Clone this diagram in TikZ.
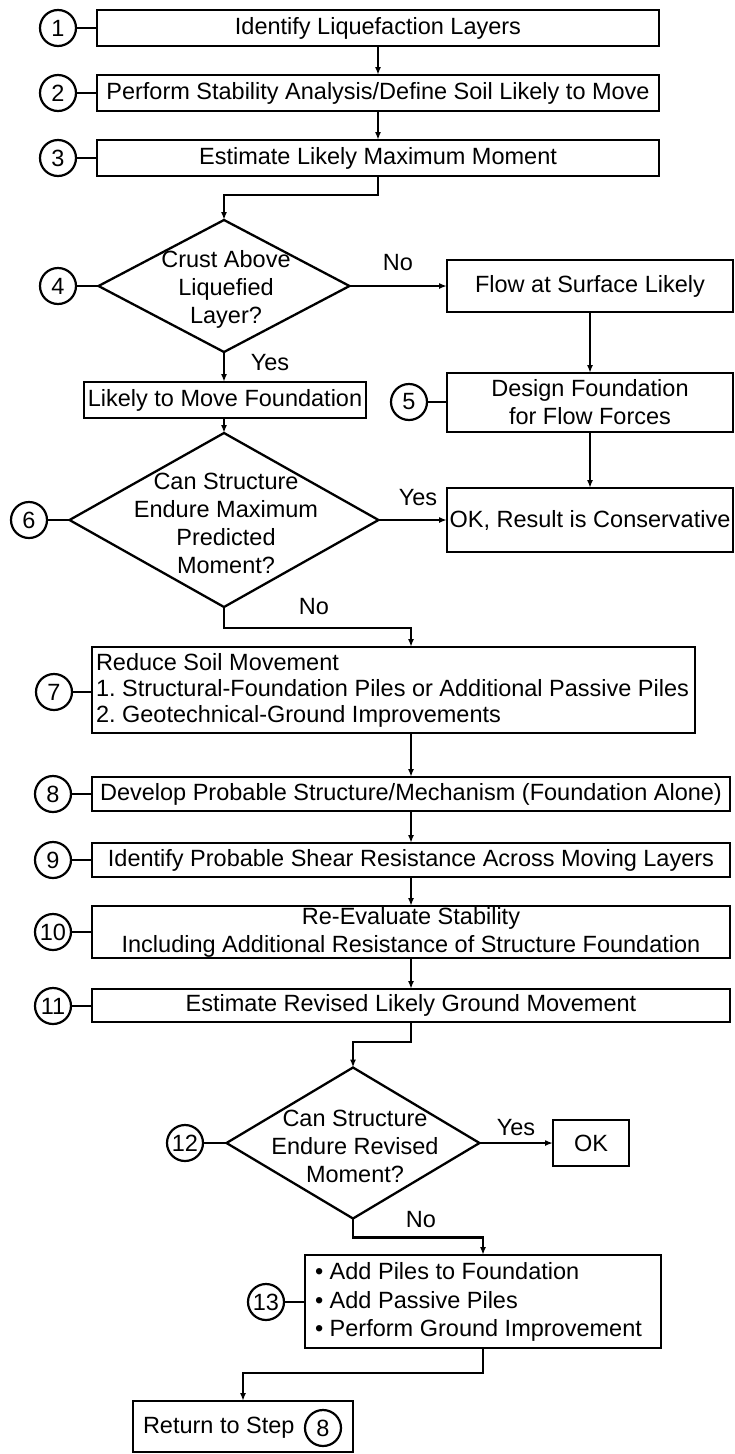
\documentclass[tikz,border=0pt]{standalone}
\usepackage{fontspec}
\setmainfont{Liberation Sans}
\usetikzlibrary{shapes.geometric,arrows.meta}
\frenchspacing
\begin{document}
\begin{tikzpicture}[x=1pt,y=-1pt,
  every node/.style={font=\fontsize{23.5}{28}\selectfont, inner sep=0pt, outer sep=0pt, align=center},
  box/.style={draw, line width=2.6pt, rectangle},
  num/.style={draw, circle, line width=2.2pt, minimum size=36pt},
  dia/.style={draw, diamond, line width=2.3pt},
  conn/.style={line width=2.4pt},
  arr/.style={line width=2.4pt, -{Latex[length=8pt,width=6pt]}}
]
\useasboundingbox (0,0) rectangle (734,1454);

% top column
\node[box, minimum width=562pt, minimum height=36pt] (b1) at (378,28) {Identify Liquefaction Layers};
\node[box, minimum width=562pt, minimum height=36pt] (b2) at (378,93) {Perform Stability Analysis/Define Soil Likely to Move};
\node[box, minimum width=562pt, minimum height=36pt] (b3) at (378,158) {Estimate Likely Maximum Moment};
\node[num] (c1) at (58,28) {1};
\node[num] (c2) at (58,93) {2};
\node[num] (c3) at (58,158) {3};
\draw[conn] (c1) -- (b1);
\draw[conn] (c2) -- (b2);
\draw[conn] (c3) -- (b3);
\draw[arr] (b1) -- (b2);
\draw[arr] (b2) -- (b3);

% decision 4
\node[dia, minimum width=251pt, minimum height=132pt] (d4) at (224,286) {};
\node (d4t) at (226,289) {Crust Above\\Liquefied\\Layer?};
\node[num] (c4) at (58,286) {4};
\draw[conn] (c4) -- (d4.west);
\draw[arr] (b3.south) -- ++(0,19) -| (d4.north);

\node[box, minimum width=286pt, minimum height=52pt] (fl) at (590,286) {Flow at Surface Likely};
\draw[arr] (d4.east) -- (fl.west);
\node (no1) at (398,263) {No};

\node[box, minimum width=282pt, minimum height=36pt] (lm) at (225,400) {Likely to Move Foundation};
\draw[arr] (d4.south) -- (d4.south |- lm.north);
\node (yes1) at (270,363) {Yes};

\node[box, minimum width=286pt, minimum height=59pt] (b5) at (590,402.5) {Design Foundation\\for Flow Forces};
\node[num] (c5) at (409,402) {5};
\draw[conn] (c5.east) -- (c5.east -| b5.west);
\draw[arr] (fl.south) -- (b5.north);

% decision 6
\node[dia, minimum width=309pt, minimum height=174pt] (d6) at (224,520) {};
\node (d6t) at (226,523) {Can Structure\\Endure Maximum\\Predicted\\Moment?};
\node[num] (c6) at (29,520) {6};
\draw[conn] (c6) -- (d6.west);
\draw[arr] (lm.south -| d6.north) -- (d6.north);

\node[box, minimum width=286pt, minimum height=64pt] (ok6) at (590,520) {OK, Result is Conservative};
\draw[arr] (b5.south) -- (ok6.north);
\draw[arr] (d6.east) -- (ok6.west);
\node (yes2) at (418,498) {Yes};

% step 7
\node[box, minimum width=603pt, minimum height=86pt] (b7) at (393.5,690) {};
\node[anchor=west, align=left, font=\fontsize{23.5}{26}\selectfont] (b7t) at (96,690)
  {Reduce Soil Movement\\1. Structural-Foundation Piles or Additional Passive Piles\\2. Geotechnical-Ground Improvements};
\node[num] (c7) at (54,692) {7};
\draw[conn] (c7.east) -- (c7.east -| b7.west);

% steps 8-11
\node[box, minimum width=638pt, minimum height=34pt] (b8) at (411,794) {Develop Probable Structure/Mechanism (Foundation Alone)};
\node[box, minimum width=638pt, minimum height=34pt] (b9) at (411,860) {Identify Probable Shear Resistance Across Moving Layers};
\node[box, minimum width=638pt, minimum height=52pt] (b10) at (411,932) {Re-Evaluate Stability\\Including Additional Resistance of Structure Foundation};
\node[box, minimum width=638pt, minimum height=33pt] (b11) at (411,1005.5) {Estimate Revised Likely Ground Movement};
\node[num] (c8) at (53,794) {8};
\node[num] (c9) at (53,860) {9};
\node[num] (c10) at (53,932) {10};
\node[num] (c11) at (53,1006) {11};
\draw[conn] (c8.east) -- (c8.east -| b8.west);
\draw[conn] (c9.east) -- (c9.east -| b9.west);
\draw[conn] (c10.east) -- (c10.east -| b10.west);
\draw[conn] (c11.east) -- (c11.east -| b11.west);

\draw[arr] (d6.south) -- ++(0,21) -| (b7.north -| b8.north);
\node (no2) at (314,607) {No};
\draw[arr] (b7.south -| b8.north) -- (b8.north);
\draw[arr] (b8) -- (b9);
\draw[arr] (b9) -- (b10);
\draw[arr] (b10) -- (b11);

% decision 12
\node[dia, minimum width=253pt, minimum height=151pt] (d12) at (353,1143) {};
\node (d12t) at (355,1146) {Can Structure\\Endure Revised\\Moment?};
\node[num] (c12) at (185,1143) {12};
\draw[conn] (c12) -- (d12.west);
\draw[arr] (b11.south) -- ++(0,20) -| (d12.north);

\node[box, minimum width=76pt, minimum height=46pt] (ok12) at (591,1143) {OK};
\draw[arr] (d12.east) -- (ok12.west);
\node (yes3) at (516,1128) {Yes};

% step 13
\node[box, minimum width=356pt, minimum height=93pt] (b13) at (483,1301.5) {};
\node[anchor=west, align=left, font=\fontsize{23.5}{28.5}\selectfont] (b13t) at (315,1302)
  {• Add Piles to Foundation\\• Add Passive Piles\\• Perform Ground Improvement};
\node[num] (c13) at (266,1302) {13};
\draw[conn] (c13.east) -- (c13.east -| b13.west);
\draw[arr] (d12.south) -- ++(0,19) -| (b13.north);
\node (no3) at (421,1220) {No};

% return
\node[box, minimum width=220pt, minimum height=51pt] (ret) at (243,1426.5) {};
\node[anchor=west] (rett) at (143,1428) {Return to Step};
\node[num] (r8) at (323,1428) {8};
\draw[arr] (b13.south) -- ++(0,25) -| (ret.north);
\end{tikzpicture}
\end{document}
